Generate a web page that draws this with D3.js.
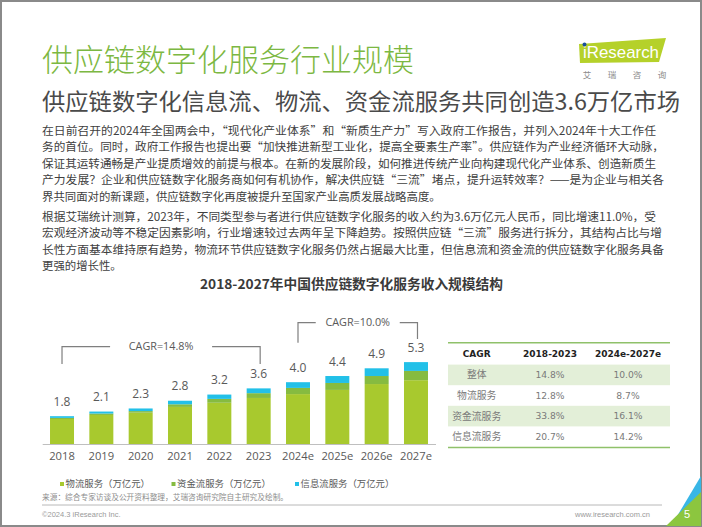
<!DOCTYPE html>
<html><head><meta charset="utf-8">
<script src="https://cdn.jsdelivr.net/npm/d3@7"></script>
<style>
html,body{margin:0;padding:0;background:#fff;}
svg{display:block;}
</style></head>
<body>
<svg id="c" width="702" height="527"></svg>
<script>
// ---------- data ----------
const years = ["2018","2019","2020","2021","2022","2023","2024e","2025e","2026e","2027e"];
const logistics = [1.62, 1.88, 2.03, 2.40, 2.67, 2.98, 3.23, 3.50, 3.88, 4.13];
const capital   = [0.07, 0.09, 0.10, 0.17, 0.25, 0.31, 0.40, 0.45, 0.52, 0.60];
const info      = [0.11, 0.13, 0.17, 0.23, 0.28, 0.31, 0.37, 0.45, 0.50, 0.57];
const totals    = ["1.8","2.1","2.3","2.8","3.2","3.6","4.0","4.4","4.9","5.3"];
const seriesNames = ["物流服务（万亿元）","资金流服务（万亿元）","信息流服务（万亿元）"];
const seriesColors = ["#a8c92e","#86bb40","#22c0e8"];
const cagrLabels = ["CAGR=14.8%","CAGR=10.0%"];
const tableHeader = ["CAGR","2018-2023","2024e-2027e"];
const tableRows = [
  ["整体","14.8%","10.0%"],
  ["物流服务","12.8%","8.7%"],
  ["资金流服务","33.8%","16.1%"],
  ["信息流服务","20.7%","14.2%"]
];
const title = "供应链数字化服务行业规模";
const subtitle = "供应链数字化信息流、物流、资金流服务共同创造3.6万亿市场";
const para1 = [
  "在日前召开的2024年全国两会中，“现代化产业体系”和“新质生产力”写入政府工作报告，并列入2024年十大工作任",
  "务的首位。同时，政府工作报告也提出要“加快推进新型工业化，提高全要素生产率”。供应链作为产业经济循环大动脉，",
  "保证其运转通畅是产业提质增效的前提与根本。在新的发展阶段，如何推进传统产业向构建现代化产业体系、创造新质生",
  "产力发展？企业和供应链数字化服务商如何有机协作，解决供应链“三流”堵点，提升运转效率？——是为企业与相关各",
  "界共同面对的新课题，供应链数字化再度被提升至国家产业高质发展战略高度。"
];
const para2 = [
  "根据艾瑞统计测算，2023年，不同类型参与者进行供应链数字化服务的收入约为3.6万亿元人民币，同比增速11.0%，受",
  "宏观经济波动等不稳定因素影响，行业增速较过去两年呈下降趋势。按照供应链“三流”服务进行拆分，其结构占比与增",
  "长性方面基本维持原有趋势，物流环节供应链数字化服务仍然占据最大比重，但信息流和资金流的供应链数字化服务具备",
  "更强的增长性。"
];
const chartTitle = "2018-2027年中国供应链数字化服务收入规模结构";
const sourceText = "来源：综合专家访谈及公开资料整理，艾瑞咨询研究院自主研究及绘制。";

// ---------- drawing ----------
const svg = d3.select("#c");
const CJK = "'Noto Sans CJK SC','Noto Sans',sans-serif";
const NUM = "'Open Sans','Noto Sans CJK SC',sans-serif";

// frame
svg.append("rect").attr("x",1).attr("y",1).attr("width",700).attr("height",525)
  .attr("fill","#fff").attr("stroke","#8a8a8a").attr("stroke-width",2);

// title & subtitle
svg.append("text").attr("x",42).attr("y",71).text(title)
  .attr("font-family",CJK).attr("font-size",31).attr("font-weight",300).attr("fill","#7cb842");
svg.append("text").attr("x",42).attr("y",109.5).text(subtitle)
  .attr("font-family",CJK).attr("font-size",22.6).attr("fill","#4a4a4a")
  .attr("textLength",638).attr("lengthAdjust","spacingAndGlyphs");

// logo
svg.append("polygon").attr("points","579,44 666,38 659,62 580,63").attr("fill","#b5d12a");
svg.append("text").attr("x",621).attr("y",58).attr("text-anchor","middle").text("iResearch")
  .attr("font-family","'Liberation Sans Narrow','Liberation Sans',sans-serif").attr("font-size",17).attr("fill","#fff")
  .attr("textLength",76).attr("lengthAdjust","spacingAndGlyphs");
svg.append("circle").attr("cx",584.5).attr("cy",44.5).attr("r",2).attr("fill","#1a4f9c");
["艾","瑞","咨","询"].forEach((ch,i)=>{
  svg.append("text").attr("x",587+i*25).attr("y",78).attr("text-anchor","middle").text(ch)
    .attr("font-family",CJK).attr("font-size",8.5).attr("fill","#8a8a8a");
});

// paragraphs
const pFont = 11.4;
const p1y = [130.5,147,163.5,180,196.5];
const p1w = [614,622,614,622,null];
para1.forEach((t,i)=>{
  const tx = svg.append("text").attr("x",42).attr("y",p1y[i]+4).text(t)
    .attr("font-family",CJK).attr("font-size",pFont).attr("fill","#404040");
  if(p1w[i]) tx.attr("textLength",p1w[i]).attr("lengthAdjust","spacingAndGlyphs");
});
const p2y = [216.5,233,249.5,266];
const p2w = [614,620,622,null];
para2.forEach((t,i)=>{
  const tx = svg.append("text").attr("x",42).attr("y",p2y[i]+4).text(t)
    .attr("font-family",CJK).attr("font-size",pFont).attr("fill","#404040");
  if(p2w[i]) tx.attr("textLength",p2w[i]).attr("lengthAdjust","spacingAndGlyphs");
});

// chart title
svg.append("text").attr("x",351.5).attr("y",289).attr("text-anchor","middle").text(chartTitle)
  .attr("font-family",CJK).attr("font-size",13.4).attr("font-weight",700).attr("fill","#3a3a3a")
  .attr("textLength",303).attr("lengthAdjust","spacingAndGlyphs");

// scales
const x = d3.scaleBand().domain(years).range([42.7,435.3]).paddingInner(0.39).paddingOuter(0.186);
const y = d3.scaleLinear().domain([0,6]).range([444, 444-6*15.45]);

// stacked bars
const rows = years.map((yr,i)=>({year:yr, logistics:logistics[i], capital:capital[i], info:info[i]}));
const stack = d3.stack().keys(["logistics","capital","info"])(rows);
const g = svg.append("g");
g.selectAll("g.s").data(stack).join("g").attr("fill",(d,i)=>seriesColors[i])
  .selectAll("rect").data(d=>d).join("rect")
  .attr("x",d=>x(d.data.year)).attr("width",x.bandwidth())
  .attr("y",d=>y(d[1])).attr("height",d=>y(d[0])-y(d[1]));

// value labels
g.selectAll("text.v").data(rows).join("text")
  .attr("x",d=>x(d.year)+x.bandwidth()/2)
  .attr("y",d=>y(d.logistics+d.capital+d.info)-14.5)
  .attr("dy","0.35em").attr("text-anchor","middle")
  .text((d,i)=>totals[i])
  .attr("font-family",NUM).attr("font-size",12).attr("fill","#595959");

// x axis
const ax = svg.append("g").attr("transform","translate(0,444)")
  .call(d3.axisBottom(x).tickSize(0).tickPadding(8));
ax.select(".domain").attr("stroke","#bfbfbf").attr("stroke-width",1).attr("d","M42.7,0.5H436");
ax.selectAll("text").attr("font-family",NUM).attr("font-size",11.2).attr("fill","#595959");

// CAGR brackets
const cx = d => x(d)+x.bandwidth()/2;
const brackets = [
  {a:"2018", b:"2023", top:346.7, legA:364, legB:364, gap:51, label:cagrLabels[0]},
  {a:"2024e", b:"2027e", top:322.7, legA:342.7, legB:339, gap:42, label:cagrLabels[1]}
];
brackets.forEach(br=>{
  const x1 = cx(br.a), x2 = cx(br.b)+1.5, m = (x1+x2)/2;
  svg.append("path")
    .attr("d",`M${x1},${br.legA}V${br.top}H${m-br.gap}M${m+br.gap},${br.top}H${x2}V${br.legB}`)
    .attr("fill","none").attr("stroke","#7f7f7f").attr("stroke-width",1.2);
  svg.append("text").attr("x",m).attr("y",br.top).attr("dy","0.35em").attr("text-anchor","middle")
    .text(br.label).attr("font-family",NUM).attr("font-size",10.8).attr("fill","#595959");
});

// table
const tx0 = 448, tx1 = 670;
const colX = [476.7, 550, 628];
const rowTop = 364.6, rowH = 20.6;
tableRows.forEach((r,i)=>{
  if(i%2===0) svg.append("rect").attr("x",tx0).attr("y",rowTop+i*rowH).attr("width",tx1-tx0).attr("height",rowH).attr("fill","#e3efd8");
});
svg.append("line").attr("x1",tx0).attr("x2",tx1).attr("y1",342.7).attr("y2",342.7).attr("stroke","#8fc16a").attr("stroke-width",1.5);
svg.append("line").attr("x1",tx0).attr("x2",tx1).attr("y1",rowTop+4*rowH+0.5).attr("y2",rowTop+4*rowH+0.5).attr("stroke","#8fc16a").attr("stroke-width",1.5);
tableHeader.forEach((h,j)=>{
  svg.append("text").attr("x",colX[j]).attr("y",354).attr("dy","0.35em").attr("text-anchor","middle").text(h)
    .attr("font-family","'DejaVu Sans',sans-serif").attr("font-weight",700).attr("font-size",9).attr("fill","#222");
});
tableRows.forEach((r,i)=>{
  r.forEach((c,j)=>{
    svg.append("text").attr("x",colX[j]).attr("y",rowTop+i*rowH+rowH/2).attr("dy","0.35em").attr("text-anchor","middle").text(c)
      .attr("font-family", j===0 ? CJK : "'DejaVu Sans',sans-serif").attr("font-size", j===0 ? 9.8 : 9.2).attr("fill","#7a7a7a");
  });
});

// legend
const legX = [60, 171.5, 295];
seriesNames.forEach((n,i)=>{
  svg.append("rect").attr("x",legX[i]).attr("y",482).attr("width",4).attr("height",4).attr("fill",seriesColors[i]);
  svg.append("text").attr("x",legX[i]+5.5).attr("y",484).attr("dy","0.35em").text(n)
    .attr("font-family",CJK).attr("font-size",9.4).attr("fill","#595959");
});

// source & footer
svg.append("text").attr("x",42).attr("y",497.5).attr("dy","0.35em").text(sourceText)
  .attr("font-family",CJK).attr("font-size",7.7).attr("fill","#8c8c8c");
svg.append("line").attr("x1",42).attr("x2",662).attr("y1",505).attr("y2",505).attr("stroke","#a6a6a6").attr("stroke-width",0.8);
svg.append("text").attr("x",42).attr("y",514.5).attr("dy","0.35em").text("©2024.3 iResearch Inc.")
  .attr("font-family","'Liberation Sans',sans-serif").attr("font-size",7.5).attr("fill","#9a9a9a");
svg.append("text").attr("x",650).attr("y",514.5).attr("dy","0.35em").attr("text-anchor","end").text("www.iresearch.com.cn")
  .attr("font-family","'Liberation Sans',sans-serif").attr("font-size",7.5).attr("fill","#9a9a9a");

// corner decoration
svg.append("polygon").attr("points","676,518 701,476 701,500").attr("fill","#38b6e6");
svg.append("polygon").attr("points","666,526 701,492 701,526").attr("fill","#8cc63f");
svg.append("text").attr("x",687).attr("y",514).attr("dy","0.35em").attr("text-anchor","middle").text("5")
  .attr("font-family","'Liberation Sans',sans-serif").attr("font-size",11).attr("fill","#fff");
</script>
</body></html>
